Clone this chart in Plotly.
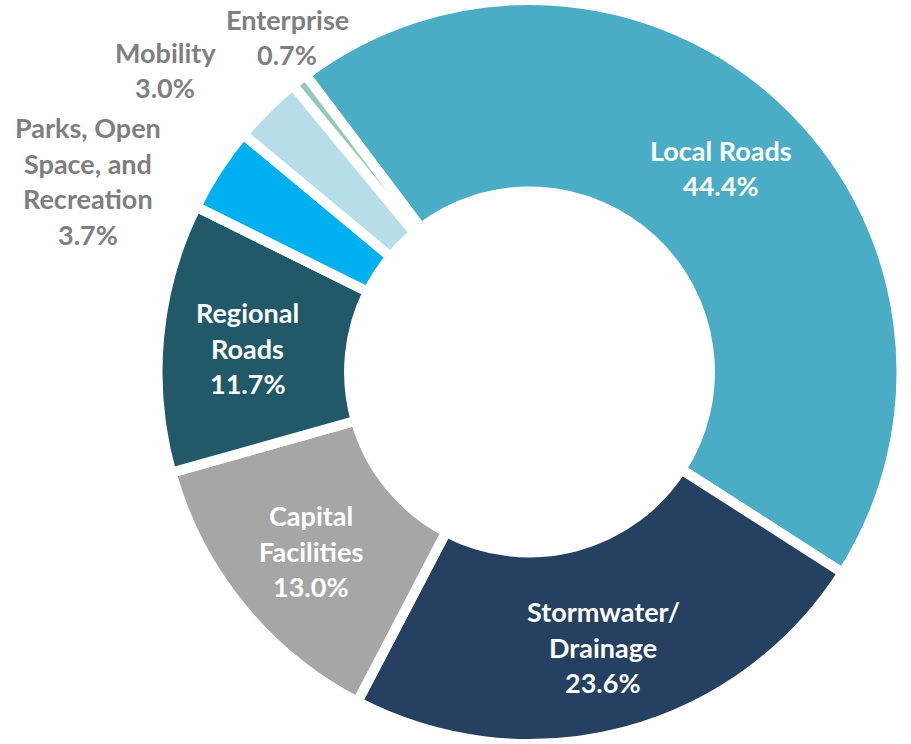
import plotly.graph_objects as go

categories = ["Local Roads", "Stormwater/ Drainage", "Capital Facilities", "Regional Roads",
              "Parks, Open Space, and Recreation", "Mobility", "Enterprise"]
values = [44.4, 23.6, 13.0, 11.7, 3.7, 3.0, 0.7]
label_lines = [
    ["Local Roads"],
    ["Stormwater/", "Drainage"],
    ["Capital", "Facilities"],
    ["Regional", "Roads"],
    ["Parks, Open", "Space, and", "Recreation"],
    ["Mobility"],
    ["Enterprise"],
]
colors = ["#4BACC6", "#264061", "#A6A6A6", "#215968", "#00B0F0", "#B7DEE8", "#93C9B8"]
inside = [True, True, True, True, False, False, False]
# label block centres in pixels (x, y from top)
label_pos = [(721, 168), (603, 647), (311, 551), (248, 348), (88, 181), (165, 70), (287, 37)]

W, H = 911, 744
fig = go.Figure()
fig.add_trace(go.Pie(
    labels=categories, values=values, sort=False, direction="clockwise",
    rotation=-37, hole=0.485, textinfo="none", hoverinfo="label+percent",
    marker=dict(colors=colors, line=dict(color="white", width=10)),
    domain=dict(x=[157.5 / W, 901.5 / W], y=[0, 1]),
    showlegend=False,
))

line_h = 35.5
annotations = []
for lines, v, (cx, cy), ins in zip(label_lines, values, label_pos, inside):
    all_lines = lines + [f"{v:.1f}%"]
    n = len(all_lines)
    for i, t in enumerate(all_lines):
        y_px = cy + (i - (n - 1) / 2) * line_h
        annotations.append(dict(
            x=cx / W, y=1 - y_px / H, xref="paper", yref="paper",
            text=f"<b>{t}</b>", showarrow=False, xanchor="center", yanchor="middle",
            font=dict(family="Lato", size=27, color="white" if ins else "#7F7F7F"),
        ))

fig.update_layout(
    width=W, height=H, margin=dict(l=0, r=0, t=0, b=0),
    paper_bgcolor="white", plot_bgcolor="white",
    annotations=annotations,
)
fig.write_html("out.html", config={"displayModeBar": False},
               post_script="document.body.style.margin='0';")
